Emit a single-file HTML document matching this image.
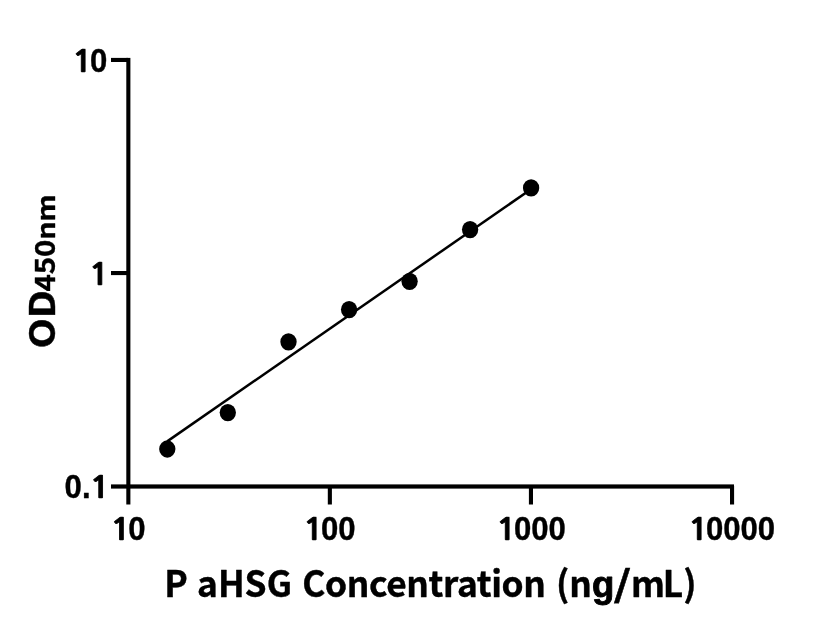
<!DOCTYPE html>
<html lang="en">
<head>
<meta charset="utf-8">
<title>P aHSG Concentration vs OD450nm</title>
<style>
  html, body { margin: 0; padding: 0; background: #ffffff; }
  body { width: 816px; height: 640px; overflow: hidden; }
  svg { display: block; }
  .tick { font-family: "Liberation Sans", sans-serif; font-weight: 700; font-size: 33.2px; fill: #000; stroke: #000; stroke-width: 0.4px; stroke-linejoin: round; }
  .g { font-family: "Liberation Sans", sans-serif; font-size: 37.1px; stroke-width: 0.9px; }
  .one { font-family: "NanumGothic", "Liberation Sans", sans-serif; font-weight: 700; font-size: 29.2px; stroke-width: 0.7px; }
  .title { font-family: "Noto Sans CJK SC", "Liberation Sans", sans-serif; font-weight: 700; fill: #000; stroke: #000; stroke-width: 0.4px; stroke-linejoin: round; }
</style>
</head>
<body>
<svg width="816" height="640" viewBox="0 0 816 640">
  <rect x="0" y="0" width="816" height="640" fill="#ffffff"/>

  <!-- axes -->
  <g fill="#000000" shape-rendering="auto">
    <!-- y axis -->
    <rect x="126.3" y="57.9" width="4.1" height="446.6"/>
    <!-- x axis -->
    <rect x="111" y="484.4" width="623" height="4.2"/>
    <!-- y ticks -->
    <rect x="111" y="57.9" width="17" height="4.1"/>
    <rect x="111" y="271" width="17" height="4.1"/>
    <!-- x ticks -->
    <rect x="327.8" y="486" width="4.1" height="18.5"/>
    <rect x="528.9" y="486" width="4.1" height="18.5"/>
    <rect x="730" y="486" width="4.1" height="18.5"/>
  </g>

  <!-- fitted line -->
  <line x1="167.2" y1="441.4" x2="531" y2="189.2" stroke="#000" stroke-width="2.5" stroke-linecap="butt"/>

  <!-- data points -->
  <g fill="#000">
    <ellipse cx="167.3" cy="449.0" rx="8.15" ry="8.65"/>
    <ellipse cx="227.8" cy="412.6" rx="8.15" ry="8.65"/>
    <ellipse cx="288.5" cy="341.8" rx="8.15" ry="8.65"/>
    <ellipse cx="349.1" cy="309.6" rx="8.15" ry="8.65"/>
    <ellipse cx="409.6" cy="281.3" rx="8.15" ry="8.65"/>
    <ellipse cx="470.1" cy="229.6" rx="8.15" ry="8.65"/>
    <ellipse cx="531.1" cy="187.9" rx="8.15" ry="8.65"/>
  </g>

  <!-- y tick labels -->
  <g class="tick" text-anchor="end">
    <text id="yl10" transform="translate(107.2,71.5) scale(0.937,1)"><tspan class="one" textLength="23.2" lengthAdjust="spacingAndGlyphs">1</tspan><tspan dx="-3.5">0</tspan></text>
    <text id="yl1" transform="translate(109.9,285.1) scale(0.937,1)"><tspan class="one" textLength="23.2" lengthAdjust="spacingAndGlyphs">1</tspan></text>
    <text id="yl01" transform="translate(110.6,497.8) scale(0.937,1)">0.<tspan class="one" dx="-1.8" textLength="23.2" lengthAdjust="spacingAndGlyphs">1</tspan></text>
  </g>

  <!-- x tick labels -->
  <g class="tick" text-anchor="middle">
    <text id="xl10" transform="translate(127.6,540.3) scale(0.937,1)"><tspan class="one" textLength="23.2" lengthAdjust="spacingAndGlyphs">1</tspan><tspan dx="-3.5">0</tspan></text>
    <text id="xl100" transform="translate(329.1,540.3) scale(0.937,1)"><tspan class="one" textLength="23.2" lengthAdjust="spacingAndGlyphs">1</tspan><tspan dx="-3.5">00</tspan></text>
    <text id="xl1000" transform="translate(530.6,540.3) scale(0.937,1)"><tspan class="one" textLength="23.2" lengthAdjust="spacingAndGlyphs">1</tspan><tspan dx="-3.5">000</tspan></text>
    <text id="xl10000" transform="translate(731.3,540.3) scale(0.937,1)"><tspan class="one" textLength="23.2" lengthAdjust="spacingAndGlyphs">1</tspan><tspan dx="-3.5">0000</tspan></text>
  </g>

  <!-- x title -->
  <text id="xt" class="title" font-size="35.8" text-anchor="start" transform="translate(164.2,597.1) scale(0.986,1)"><tspan>P</tspan><tspan dx="1.3"> aHSG</tspan><tspan dx="2.8" letter-spacing="-0.39"> Concentration</tspan><tspan dx="2.5"> (n</tspan><tspan class="g">g</tspan><tspan dx="-0.8" textLength="18" lengthAdjust="spacingAndGlyphs">/</tspan><tspan dx="-0.4">m</tspan><tspan dx="-2.2">L)</tspan></text>

  <!-- y title -->
  <text id="yt" class="title" text-anchor="start" transform="translate(55.2,348.6) rotate(-90)"><tspan font-size="34.4" textLength="58.4" lengthAdjust="spacingAndGlyphs">OD</tspan><tspan font-size="26.8" dx="-1.4" textLength="52" lengthAdjust="spacingAndGlyphs">450</tspan><tspan font-size="24.4" textLength="45.3" lengthAdjust="spacingAndGlyphs">nm</tspan></text>
</svg>
</body>
</html>
